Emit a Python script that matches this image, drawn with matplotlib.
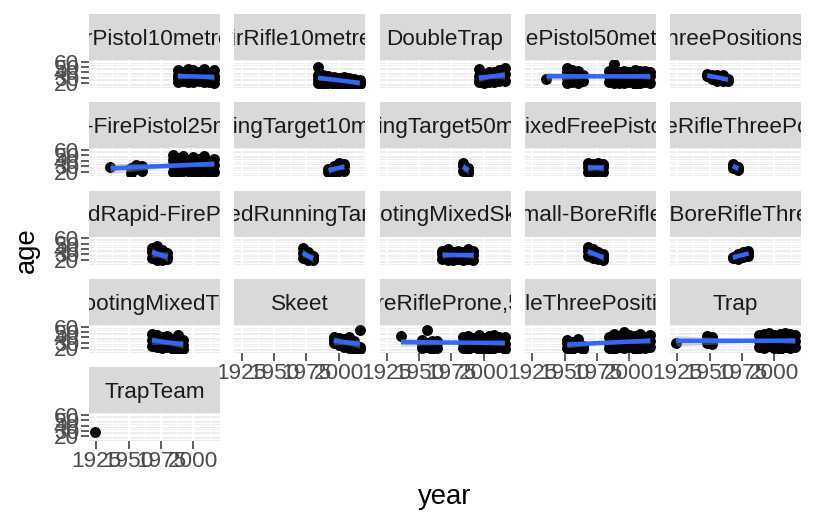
import numpy as np
import matplotlib

matplotlib.use("Agg")
from matplotlib import pyplot as plt

plt.rcParams["font.family"] = ["Liberation Sans", "DejaVu Sans"]

# Ages of shooters by Olympic year, one dict per event (year -> ages)
AIR_PISTOL = {1988: [22, 30, 36, 45], 1992: [24, 33, 41], 1996: [23, 31, 38, 46],
              2000: [22, 32, 44], 2004: [24, 30, 40], 2008: [22, 29, 38, 46],
              2012: [23, 31, 37], 2016: [21, 28, 34, 44]}
AIR_RIFLE = {1984: [20, 28, 36, 51], 1988: [19, 27, 35], 1992: [20, 26, 33],
             1996: [19, 25, 32], 2000: [18, 24, 30], 2004: [19, 23, 31],
             2008: [18, 22, 29], 2012: [19, 22, 28], 2016: [18, 21, 27]}
DOUBLE_TRAP = {1996: [22, 27, 34, 46], 2000: [21, 28, 38], 2004: [23, 31, 40],
               2008: [22, 33, 41], 2012: [24, 35, 44], 2016: [25, 37, 49]}
FREE_PISTOL = {1936: [28], 1952: [21, 30, 40, 48], 1956: [23, 35, 45], 1960: [20, 32, 42],
               1964: [24, 36], 1984: [22, 33, 42], 1988: [20, 34, 44, 55],
               1992: [21, 32, 40], 1996: [20, 35, 43], 2000: [22, 33, 41],
               2004: [19, 36, 44], 2008: [21, 34, 42], 2012: [22, 35, 43],
               2016: [20, 33, 41]}
FREE_RIFLE = {1948: [33, 37], 1952: [28, 36], 1956: [25, 31, 36], 1960: [25, 30, 35],
              1964: [25, 28]}
RAPID_FIRE = {1936: [28], 1952: [18, 27], 1956: [24, 33], 1960: [21, 30],
              1984: [20, 32, 42, 50], 1988: [19, 30, 45], 1992: [22, 34, 49],
              1996: [21, 31, 42], 2000: [19, 35, 47], 2004: [20, 33, 43],
              2008: [22, 36, 49], 2012: [19, 31, 40], 2016: [20, 33, 44]}
RUN_10 = {1992: [20, 24], 1996: [19, 25, 30], 2000: [22, 28, 35], 2004: [21, 30, 34]}
RUN_50 = {1984: [22, 30, 36], 1988: [18, 22, 26]}
MIX_FREE_PISTOL = {1968: [20, 28, 35], 1972: [19, 27, 34], 1976: [21, 29, 35],
                   1980: [19, 28, 34]}
MIX_FREE_RIFLE = {1968: [26, 31, 34], 1972: [23, 25, 28]}
MIX_RAPID = {1968: [24, 34, 42], 1972: [20, 30, 45], 1976: [19, 28, 38], 1980: [21, 25, 33]}
MIX_RUN_50 = {1972: [24, 33, 42], 1976: [20, 27, 35], 1980: [19, 22, 28]}
MIX_SKEET = {1968: [22, 30, 36], 1972: [20, 31, 40], 1976: [19, 29, 35], 1980: [21, 30, 37],
             1984: [20, 28, 35], 1988: [22, 31, 40], 1992: [20, 29, 36]}
MIX_SB_PRONE = {1968: [28, 36, 43], 1972: [24, 32, 40], 1976: [21, 28, 34],
                1980: [19, 25, 30]}
MIX_SB_3P = {1968: [23, 26], 1972: [22, 28, 31], 1976: [25, 30, 34], 1980: [27, 33, 36]}
MIX_TRAP = {1968: [24, 36, 46], 1972: [22, 34, 44], 1976: [20, 31, 40], 1980: [22, 29, 42],
            1984: [19, 28, 37], 1988: [20, 27, 45], 1992: [19, 26, 36]}
SKEET = {1996: [30, 36, 40], 2000: [26, 34, 39], 2004: [22, 30, 37], 2008: [20, 27, 41],
         2012: [19, 25, 33], 2016: [19, 22, 54]}
SB_PRONE = {1936: [43], 1952: [20, 28, 35], 1956: [22, 30, 54], 1960: [19, 27, 34],
            1964: [21, 29, 33], 1984: [20, 30, 40], 1988: [18, 28, 43], 1992: [22, 32, 39],
            1996: [19, 29, 44], 2000: [21, 31, 38], 2004: [18, 27, 42], 2008: [20, 30, 44],
            2012: [22, 33, 40], 2016: [19, 28, 41]}
SB_3P = {1952: [20, 29, 36], 1956: [18, 26, 32], 1960: [22, 30, 37], 1964: [19, 24],
         1984: [21, 30, 40], 1988: [19, 33, 47], 1992: [23, 31, 42], 1996: [20, 35, 50],
         2000: [22, 32, 45], 2004: [19, 34, 43], 2008: [21, 33, 46], 2012: [20, 31, 41],
         2016: [22, 34, 44]}
TRAP = {1924: [29], 1948: [30, 36, 42], 1952: [28, 33, 40], 1988: [22, 34, 44],
        1992: [20, 31, 46], 1996: [24, 36, 48], 2000: [21, 33, 45], 2004: [19, 35, 47],
        2008: [22, 32, 48], 2012: [20, 37, 46], 2016: [23, 34, 44]}
TRAP_TEAM = {1924: [29]}

EVENT_LABELS = [
    "AirPistol10metres", "AirRifle10metres", "DoubleTrap", "FreePistol50metres",
    "FreeRifleThreePositions300metres", "Rapid-FirePistol25metres",
    "RunningTarget10metres", "RunningTarget50metres", "ShootingMixedFreePistol50metres",
    "ShootingMixedFreeRifleThreePositions,300metres",
    "ShootingMixedRapid-FirePistol25metres", "ShootingMixedRunningTarget50metres",
    "ShootingMixedSkeet", "ShootingMixedSmall-BoreRifleProne,50metres",
    "ShootingMixedSmall-BoreRifleThreePositions,50metres", "ShootingMixedTrap", "Skeet",
    "Small-BoreRifleProne,50metres", "Small-BoreRifleThreePositions,50metres", "Trap",
    "TrapTeam",
]
EVENT_DATA = [
    AIR_PISTOL, AIR_RIFLE, DOUBLE_TRAP, FREE_PISTOL, FREE_RIFLE, RAPID_FIRE, RUN_10,
    RUN_50, MIX_FREE_PISTOL, MIX_FREE_RIFLE, MIX_RAPID, MIX_RUN_50, MIX_SKEET,
    MIX_SB_PRONE, MIX_SB_3P, MIX_TRAP, SKEET, SB_PRONE, SB_3P, TRAP, TRAP_TEAM,
]

X_TICKS = [1925, 1950, 1975, 2000]
Y_TICKS = [20, 30, 40, 50, 60]
XLIM = (1919.4, 2020.6)
YLIM = (11.3, 63.1)

# layout in pixels
W, H = 816, 528
COL_LEFT = [89, 234.5, 379.5, 525, 670]
ROW_TOP = [14, 102.3, 190.6, 278.9, 367.2]
PANEL_W, STRIP_H, PANEL_H = 131, 46, 28
NCOL = 5


def box(left, top, width, height):
    return [left / W, 1 - (top + height) / H, width / W, height / H]


def t_crit(df):
    # rough 97.5% quantile of the t distribution
    return 1.96 + 2.4 / df + 2.5 / df**2


fig = plt.figure(figsize=(W / 100, H / 100), dpi=100)
n = len(EVENT_LABELS)
last_row_start = (n - 1) // NCOL * NCOL

for i, (label, data) in enumerate(zip(EVENT_LABELS, EVENT_DATA)):
    row, col = divmod(i, NCOL)
    left, top = COL_LEFT[col], ROW_TOP[row]

    # strip
    sax = fig.add_axes(box(left, top, PANEL_W, STRIP_H))
    sax.set_facecolor("#D9D9D9")
    sax.set_xticks([])
    sax.set_yticks([])
    for sp in sax.spines.values():
        sp.set_visible(False)
    sax.text(0.5, 0.45, label, transform=sax.transAxes, ha="center", va="center",
             fontsize=16.2, color="#1A1A1A", clip_on=True)

    # panel
    ax = fig.add_axes(box(left, top + STRIP_H, PANEL_W, PANEL_H))
    ax.set_facecolor("#EBEBEB")
    for sp in ax.spines.values():
        sp.set_visible(False)
    ax.set_xlim(*XLIM)
    ax.set_ylim(*YLIM)
    ax.set_xticks(X_TICKS)
    ax.set_yticks(Y_TICKS)
    ax.set_xticks([1937.5, 1962.5, 1987.5, 2012.5], minor=True)
    ax.set_yticks([15, 25, 35, 45, 55], minor=True)
    ax.grid(which="major", color="white", linewidth=1.6)
    ax.grid(which="minor", color="white", linewidth=0.8)
    ax.set_axisbelow(True)
    ax.tick_params(which="minor", length=0)
    ax.tick_params(which="major", length=5.8, width=1.1, color="#333333",
                   labelsize=16.2, labelcolor="#4D4D4D", pad=1.5)

    bottom_panel = i >= last_row_start or i + NCOL >= n
    ax.tick_params(axis="x", bottom=bottom_panel, labelbottom=bottom_panel)
    ax.tick_params(axis="y", left=(col == 0), labelleft=(col == 0))

    years = np.array([yr for yr, ages in data.items() for _ in ages], dtype=float)
    ages = np.array([a for yr, a_list in data.items() for a in a_list], dtype=float)
    ax.scatter(years, ages, s=62, color="black", linewidths=0, zorder=2)

    if len(set(years)) > 1:
        slope, intercept = np.polyfit(years, ages, 1)
        xs = np.linspace(years.min(), years.max(), 80)
        fit = intercept + slope * xs
        resid = ages - (intercept + slope * years)
        k = len(years)
        s = np.sqrt((resid**2).sum() / (k - 2))
        sxx = ((years - years.mean()) ** 2).sum()
        se = s * np.sqrt(1 / k + (xs - years.mean()) ** 2 / sxx)
        band = t_crit(k - 2) * se
        ax.fill_between(xs, fit - band, fit + band, color="#999999", alpha=0.4,
                        linewidth=0, zorder=3)
        ax.plot(xs, fit, color="#3366FF", linewidth=3.2, zorder=4,
                solid_capstyle="butt")

fig.text(27 / W, 1 - 250 / H, "age", rotation=90, ha="center", va="center",
         fontsize=19.8)
fig.text(445 / W, 1 - 497 / H, "year", ha="center", va="center", fontsize=19.8)

fig.savefig("out.png", dpi=100)
